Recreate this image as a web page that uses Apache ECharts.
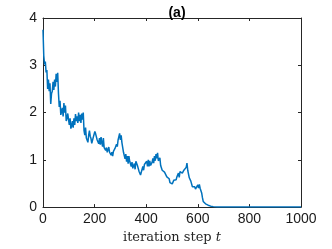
<!DOCTYPE html>
<html><head><meta charset="utf-8">
<script src="https://cdn.jsdelivr.net/npm/echarts@6/dist/echarts.min.js"></script>
<style>html,body{margin:0;padding:0;background:#fff}#c{width:332px;height:249px}</style>
</head><body><div id="c"></div>
<script>
var steps = [0,3,6,9,12,15,18,21,24,27,30,33,36,39,42,45,48,51,54,57,60,63,66,69,72,75,78,81,84,87,90,93,96,99,102,105,108,111,114,117,120,123,126,129,132,135,138,141,144,147,150,153,156,159,162,165,168,171,174,177,180,183,186,189,192,195,198,201,204,207,210,213,216,219,222,225,228,231,234,237,240,243,246,249,252,255,258,261,264,267,270,273,276,279,282,285,288,291,294,297,300,303,306,309,312,315,318,321,324,327,330,333,336,339,342,345,348,351,354,357,360,363,366,369,372,375,378,381,384,387,390,393,396,399,402,405,408,411,414,417,420,423,426,429,432,435,438,441,444,447,450,453,456,459,462,465,468,471,474,477,480,483,486,489,492,495,498,501,504,507,510,513,516,519,522,525,528,531,534,537,540,543,546,549,552,555,558,561,564,567,570,573,576,579,582,585,588,591,594,597,600,603,606,609,612,615,618,621,625,630,640,650,660,675,700,1000];
var values = [3.75,3.2,3.02,3.08,2.85,2.9,2.5,2.7,2.45,2.62,2.18,2.4,2.45,2.65,2.48,2.7,2.55,2.82,2.65,2.84,2.4,2.12,2.25,1.95,2.02,2.1,1.92,2.2,2.0,2.15,1.82,1.88,1.98,1.85,1.74,1.88,1.66,1.72,1.82,1.68,1.88,1.74,1.97,1.82,1.92,1.78,2.0,1.82,1.95,1.78,1.98,1.85,2.0,1.62,1.52,1.68,1.46,1.5,1.37,1.52,1.62,1.5,1.45,1.35,1.32,1.48,1.45,1.6,1.55,1.58,1.42,1.45,1.34,1.46,1.32,1.48,1.36,1.28,1.46,1.26,1.28,1.2,1.26,1.16,1.18,1.27,1.16,1.2,1.1,1.16,1.08,1.18,1.15,1.24,1.2,1.33,1.28,1.42,1.4,1.56,1.42,1.52,1.36,1.32,1.16,1.2,1.02,1.12,0.96,1.08,0.92,1.08,0.97,0.98,0.86,0.95,0.82,0.86,0.92,0.8,0.97,0.96,0.88,0.86,0.76,0.8,0.68,0.7,0.72,0.86,0.78,0.9,0.88,0.87,0.97,0.86,1.0,0.86,0.98,0.88,0.9,0.95,1.03,0.93,1.08,0.98,1.12,1.03,1.15,0.98,0.97,1.04,0.88,0.88,0.78,0.82,0.76,0.74,0.7,0.72,0.64,0.68,0.6,0.6,0.52,0.55,0.48,0.49,0.48,0.57,0.58,0.6,0.58,0.64,0.66,0.72,0.63,0.75,0.72,0.73,0.72,0.76,0.78,0.8,0.79,0.84,0.93,0.78,0.74,0.62,0.64,0.55,0.52,0.43,0.46,0.42,0.43,0.38,0.41,0.38,0.47,0.4,0.48,0.4,0.38,0.3,0.2,0.12,0.09,0.07,0.04,0.02,0.01,0.003,0,0];
var xTicks = [0,200,400,600,800,1000];
var yTicks = [0,1,2,3,4];
var titleText = '(a)';

var data = steps.map(function(s,i){return [s, values[i]];});
var axisCol = '#262626';
var chart = echarts.init(document.getElementById('c'), null, {renderer:'canvas'});
function baseX(show){return {type:'value',min:xTicks[0],max:xTicks[xTicks.length-1],interval:200,
  axisLine:{show:true,onZero:false,lineStyle:{color:axisCol,width:1}},
  axisTick:{show:true,inside:true,length:3,lineStyle:{color:axisCol}},
  axisLabel:{show:show,color:'#1a1a1a',fontSize:14,fontFamily:'Liberation Sans, Arial, sans-serif',margin:5,formatter:function(v){return String(v);}},
  splitLine:{show:false}};}
function baseY(show){return {type:'value',min:yTicks[0],max:yTicks[yTicks.length-1],interval:1,
  axisLine:{show:true,onZero:false,lineStyle:{color:axisCol,width:1}},
  axisTick:{show:true,inside:true,length:3,lineStyle:{color:axisCol}},
  axisLabel:{show:show,color:'#1a1a1a',fontSize:14,fontFamily:'Liberation Sans, Arial, sans-serif',margin:6,formatter:function(v){return String(v);}},
  splitLine:{show:false}};}
var xb = baseX(true);
xb.position='bottom';
xb.name='{a|iteration step }{b|t}';
xb.nameLocation='middle';
xb.nameGap=19;
xb.nameTextStyle={rich:{a:{fontFamily:'DejaVu Serif, serif',fontSize:13,color:'#262626'},b:{fontFamily:'DejaVu Serif, serif',fontStyle:'italic',fontSize:13,color:'#262626'}}};
var xt = baseX(false); xt.position='top';
var yl = baseY(true); yl.position='left';
var yr = baseY(false); yr.position='right';
chart.setOption({
  animation:false,
  title:{text:titleText,left:172,textAlign:'center',top:1,textStyle:{fontSize:14,fontWeight:'bold',color:'#000',fontFamily:'Liberation Sans, Arial, sans-serif'}},
  grid:{left:43,right:31,top:18,bottom:38,containLabel:false},
  xAxis:[xb,xt],
  yAxis:[yl,yr],
  series:[{type:'line',data:data,xAxisIndex:0,yAxisIndex:0,showSymbol:false,symbol:'none',
    lineStyle:{color:'#0072BD',width:1.5},itemStyle:{color:'#0072BD'}}]
});
</script></body></html>
